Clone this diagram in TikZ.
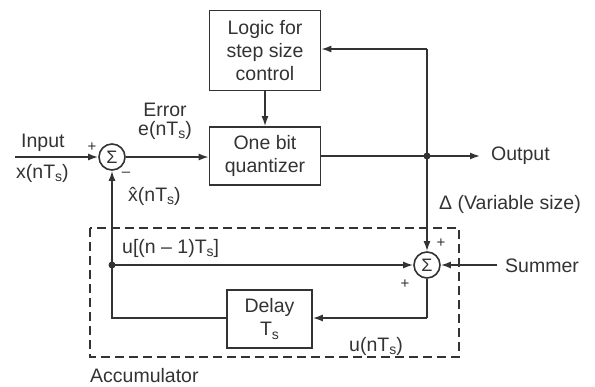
\documentclass[tikz,border=0pt]{standalone}
\usepackage{fontspec}
\setmainfont{Liberation Sans}
\usetikzlibrary{arrows.meta}
\definecolor{ink}{HTML}{333333}
\newcommand{\sbs}[1]{\raisebox{-0.35ex}{\fontsize{14}{14}\selectfont #1}}
\tikzset{
  blk/.style={draw=ink, line width=1.6pt, minimum width=111pt, align=center, inner sep=0pt, text=ink, font=\fontsize{19.5}{23}\selectfont},
  sumc/.style={draw=ink, line width=1.6pt, circle, minimum size=26pt, inner sep=0pt, text=ink, font=\fontsize{18}{18}\selectfont},
  ln/.style={draw=ink, line width=1.6pt},
  arr/.style={ln, -{Latex[length=10pt,width=7pt]}},
  lbl/.style={text=ink, font=\fontsize{19.5}{19}\selectfont, inner sep=0pt, align=center},
  sgn/.style={text=ink, font=\fontsize{15}{15}\selectfont, inner sep=0pt},
  dotc/.style={circle, fill=ink, inner sep=0pt, minimum size=7pt}
}
\begin{document}
\begin{tikzpicture}[x=1pt,y=-1pt]
\useasboundingbox (0,0) rectangle (595,386);
\node[blk, minimum height=80pt] (logic) at (265,50.5) {Logic for\\step size\\control};
\node[blk, minimum height=58pt] (quant) at (265,156) {One bit\\quantizer};
\node[blk, minimum width=85pt, minimum height=58pt] (delay) at (269.5,319) {Delay\\T\sbs{s}};
\node[sumc] (s1) at (112,157) {Σ};
\node[sumc] (s2) at (427,265) {Σ};
\node[dotc] (jo) at (427,156) {};
\node[dotc] (ja) at (112,265) {};
\coordinate (inS) at (15,157);
\coordinate (outE) at (480,156);
\coordinate (sumE) at (497,265);
\coordinate (fb) at (427,49);
\coordinate (dr) at (427,318);
\coordinate (dl) at (112,318);
% connections
\draw[arr] (inS) -- (s1.west);
\draw[arr] (s1.east) -- (s1.east -| quant.west);
\draw[arr] (logic.south) -- (quant.north);
\draw[ln] (quant.east |- jo) -- (jo.center);
\draw[arr] (jo.center) -- (outE);
\draw[ln] (jo.center) -- (fb);
\draw[arr] (fb) -- (fb -| logic.east);
\draw[arr] (jo.center) -- (s2.north);
\draw[arr] (sumE) -- (s2.east);
\draw[arr] (ja.center) -- (s2.west);
\draw[ln] (s2.south) -- (dr);
\draw[arr] (dr) -- (dr -| delay.east);
\draw[ln] (dl -| delay.west) -- (dl) -- (ja.center);
\draw[arr] (ja.center) -- (s1.south);
% dashed accumulator
\draw[ink, line width=1.5pt, dash pattern=on 9pt off 5pt] (90,228) rectangle (459,357);
% labels
\node[lbl, anchor=west] (tin) at (21,143) {Input};
\node[lbl, anchor=west] (tx) at (16,173) {x(nT\sbs{s})};
\node[lbl] (terr) at (165,121) {Error\\e(nT\sbs{s})};
\node[lbl, anchor=west] (txh) at (128,196) {\^{x}(nT\sbs{s})};
\node[sgn] (p1) at (92,147) {+};
\node[sgn] (m1) at (126,174) {–};
\node[lbl, anchor=west] (tout) at (491,156) {Output};
\node[lbl, anchor=west] (tdel) at (439,204) {Δ (Variable size)};
\node[lbl, anchor=west] (tsum) at (505,266) {Summer};
\node[sgn] (p2) at (441,243) {+};
\node[sgn] (p3) at (405,284) {+};
\node[lbl, anchor=west] (tu1) at (122,248) {u[(n – 1)T\sbs{s}]};
\node[lbl, anchor=west] (tu2) at (349,346) {u(nT\sbs{s})};
\node[lbl, anchor=west] (tacc) at (90,376) {Accumulator};
\end{tikzpicture}
\end{document}
